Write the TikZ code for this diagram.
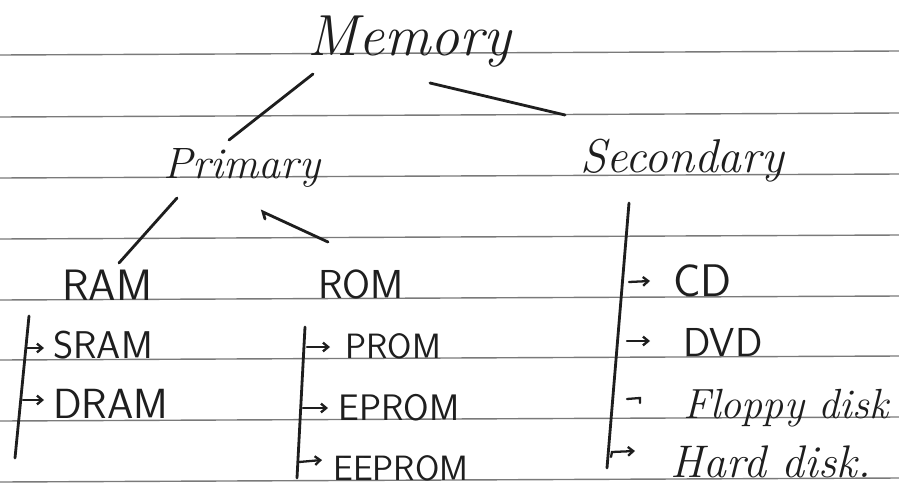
\documentclass[tikz,border=0pt]{standalone}
\usetikzlibrary{arrows.meta}
\definecolor{ink}{HTML}{1E1E1E}
\definecolor{rule}{HTML}{7A7A7A}
\begin{document}
\begin{tikzpicture}[x=0.02cm,y=-0.02cm,
  ruling/.style={rule,line width=0.8pt},
  inkline/.style={ink,line width=1.6pt,line cap=round},
  tick/.style={ink,line width=1.3pt,line cap=round,-{Straight Barb[length=3pt,width=5pt]}},
  plain tick/.style={ink,line width=1.3pt,line cap=round},
  cursive/.style={ink,inner sep=0pt,anchor=base west,font=\itshape},
  caps/.style={ink,inner sep=0pt,anchor=base west,font=\sffamily\fontsize{20}{24}\selectfont}]
\fill[white] (0,0) rectangle (899,487);
\useasboundingbox (0,0) rectangle (899,487);
% ruled paper
\foreach \yy in {55,117,178,239,300,360,421,482}
  \draw[ruling] (0,\yy) -- (899,\yy-4);
% headings
\node[cursive,font=\itshape\fontsize{33}{38}\selectfont] (mem) at (307,55) {Memory};
\node[cursive,font=\itshape\fontsize{25}{30}\selectfont] (pri) at (163,178) {Primary};
\node[cursive,font=\itshape\fontsize{27}{32}\selectfont] (sec) at (580,172) {Secondary};
\node[caps,font=\sffamily\fontsize{25}{30}\selectfont] (ram) at (62,300) {RAM};
\node[caps,font=\sffamily\fontsize{23}{27}\selectfont] (rom) at (318,298) {ROM};
\node[caps,font=\sffamily\fontsize{22}{26}\selectfont] (sram) at (53,358) {SRAM};
\node[caps,font=\sffamily\fontsize{24}{28}\selectfont] (dram) at (53,418) {DRAM};
\node[caps] (prom) at (345,358) {PROM};
\node[caps,font=\sffamily\fontsize{21}{25}\selectfont] (eprom) at (338,420) {EPROM};
\node[caps] (eeprom) at (333,480) {EEPROM};
\node[caps,font=\sffamily\fontsize{26}{30}\selectfont] (cd) at (673,296) {CD};
\node[caps,font=\sffamily\fontsize{23}{27}\selectfont] (dvd) at (683,356) {DVD};
\node[cursive,font=\itshape\fontsize{24}{28}\selectfont] (floppy) at (683,418) {Floppy disk};
\node[cursive,font=\itshape\fontsize{26}{31}\selectfont] (hard) at (670,477) {Hard disk.};
% connector end points
\coordinate (m1) at (313,74);  \coordinate (p1) at (229,140);
\coordinate (m2) at (430,83);  \coordinate (s1) at (565,115);
\coordinate (p2) at (177,198); \coordinate (r1) at (119,263);
\coordinate (p3) at (263,212); \coordinate (r2) at (328,242);
\coordinate (rt) at (29,316);  \coordinate (rb) at (15,458);
\coordinate (ot) at (305,327); \coordinate (ob) at (297,478);
\coordinate (st) at (629,203); \coordinate (sb) at (607,468);
% tree connectors
\draw[inkline] (m1) -- (p1);
\draw[inkline] (m2) -- (s1);
\draw[inkline] (p2) -- (r1);
\draw[inkline] (265,219) -- (p3) -- (r2);
% vertical spines
\draw[inkline] (rt) -- (rb);
\draw[inkline] (ot) -- (ob);
\draw[inkline] (st) -- (sb);
% branch ticks
\draw[tick] (26,348) -- (44,348);
\draw[tick] (23,400) -- (44,400);
\draw[tick] (307,347) -- (330,347);
\draw[tick] (303,408) -- (328,408);
\draw[tick] (299,462) -- (322,460);
\draw[tick] (629,282) -- (650,281);
\draw[tick] (627,341) -- (650,341);
\draw[plain tick] (627,399) -- (640,398) -- (640,403);
\draw[tick] (611,457) -- (612,452) -- (635,451);
\end{tikzpicture}
\end{document}
